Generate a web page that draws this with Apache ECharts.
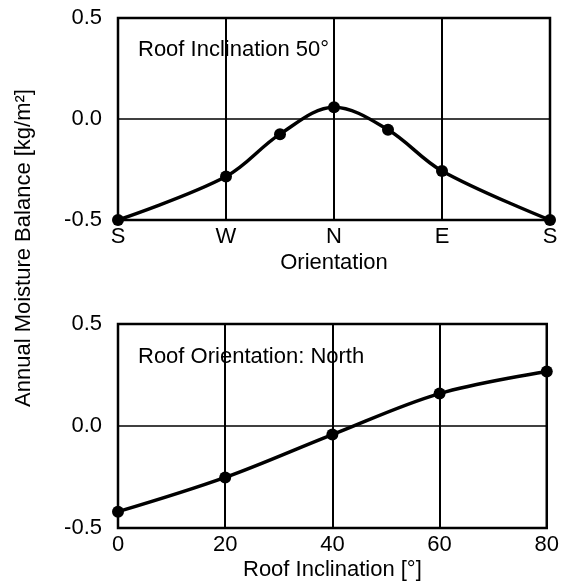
<!DOCTYPE html>
<html>
<head>
<meta charset="utf-8">
<script src="https://cdn.jsdelivr.net/npm/echarts@6/dist/echarts.min.js"></script>
<style>
  html, body { margin: 0; padding: 0; background: #fff; }
  #main { width: 562px; height: 587px; }
</style>
</head>
<body>
<div id="main"></div>
<script>
// top panel: orientation sweep at 50° inclination
var orientLabels = ['S', 'W', 'N', 'E', 'S'];
var orientPos = [0, 1, 1.5, 2, 2.5, 3, 4];
var orientVals = [-0.5, -0.285, -0.075, 0.058, -0.053, -0.257, -0.5];

// bottom panel: inclination sweep, north facing
var inclPos = [0, 20, 40, 60, 80];
var inclVals = [-0.42, -0.252, -0.042, 0.159, 0.267];

var font = 'Liberation Sans, Arial, sans-serif';
var fs = 22;
var chart = echarts.init(document.getElementById('main'));

function yAxis(idx) {
    return {
        type: 'value', gridIndex: idx, min: -0.5, max: 0.5, interval: 0.5,
        axisLine: { show: false }, axisTick: { show: false },
        axisLabel: { color: '#000', fontSize: fs, fontFamily: font, margin: 16,
            formatter: function (v) { return v.toFixed(1); } },
        splitLine: { show: true, lineStyle: { color: '#000', width: 1.5 } }
    };
}

function lineSeries(idx, xs, ys) {
    return {
        type: 'line', xAxisIndex: idx, yAxisIndex: idx, smooth: 0.35,
        data: xs.map(function (p, i) { return [p, ys[i]]; }),
        symbol: 'circle', symbolSize: 12, clip: false,
        lineStyle: { color: '#000', width: 3.5 }, itemStyle: { color: '#000' }
    };
}

var option = {
    animation: false,
    grid: [
        { left: 118, right: 12, top: 18, height: 202, show: true, borderColor: '#000', borderWidth: 2.5 },
        { left: 118, right: 12, top: 324, height: 204, show: true, borderColor: '#000', borderWidth: 2.5 }
    ],
    title: [
        { text: 'Roof Inclination 50°', left: 138, top: 39, padding: 0,
          textStyle: { fontSize: fs, fontWeight: 'normal', color: '#000', fontFamily: font } },
        { text: 'Roof Orientation: North', left: 138, top: 346, padding: 0,
          textStyle: { fontSize: fs, fontWeight: 'normal', color: '#000', fontFamily: font } }
    ],
    xAxis: [
        {
            type: 'value', gridIndex: 0, min: 0, max: 4, interval: 1,
            name: 'Orientation', nameLocation: 'middle', nameGap: 32,
            nameTextStyle: { fontSize: fs, color: '#000', fontFamily: font },
            axisLine: { show: false }, axisTick: { show: false },
            axisLabel: { color: '#000', fontSize: fs, fontFamily: font, margin: 6,
                formatter: function (v) { return orientLabels[v]; } },
            splitLine: { show: true, lineStyle: { color: '#000', width: 2 } }
        },
        {
            type: 'value', gridIndex: 1, min: 0, max: 80, interval: 20,
            name: 'Roof Inclination [°]', nameLocation: 'middle', nameGap: 31,
            nameTextStyle: { fontSize: fs, color: '#000', fontFamily: font },
            axisLine: { show: false }, axisTick: { show: false },
            axisLabel: { color: '#000', fontSize: fs, fontFamily: font, margin: 6 },
            splitLine: { show: true, lineStyle: { color: '#000', width: 2 } }
        }
    ],
    yAxis: [yAxis(0), yAxis(1)],
    graphic: [{
        type: 'text', x: 24, y: 248, rotation: Math.PI / 2,
        style: { text: 'Annual Moisture Balance [kg/m²]', fill: '#000', fontSize: fs,
                 fontFamily: font, align: 'center', verticalAlign: 'middle' }
    }],
    series: [
        lineSeries(0, orientPos, orientVals),
        lineSeries(1, inclPos, inclVals)
    ]
};
chart.setOption(option);
</script>
</body>
</html>
